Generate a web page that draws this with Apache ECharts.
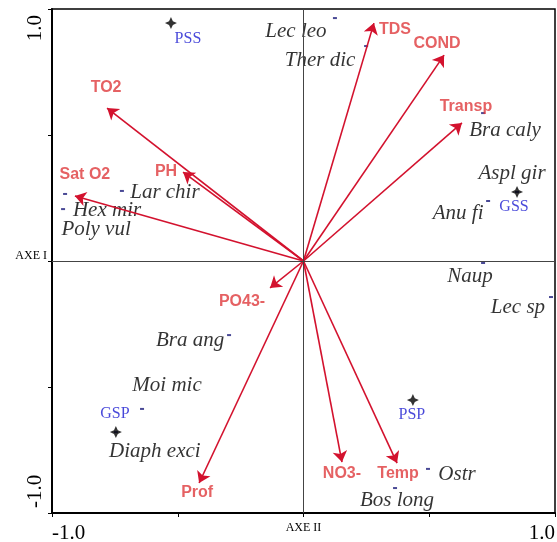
<!DOCTYPE html>
<html>
<head>
<meta charset="utf-8">
<title>ACC</title>
<script src="https://cdn.jsdelivr.net/npm/echarts@6/dist/echarts.min.js"></script>
<style>
html, body { margin: 0; padding: 0; background: #fff; }
#chart { width: 557px; height: 542px; }
</style>
</head>
<body>
<div id="chart"></div>
<script>
// variables environnementales (fleches)
var envNames = ['TDS', 'COND', 'Transp', 'TO2', 'PH', 'Sat O2', 'PO43-', 'Prof', 'NO3-', 'Temp'];
var envX = [0.280, 0.559, 0.630, -0.781, -0.479, -0.909, -0.133, -0.415, 0.153, 0.372];
var envY = [0.944, 0.817, 0.548, 0.607, 0.353, 0.258, -0.107, -0.881, -0.798, -0.802];

// especes
var spNames = ['Lec leo', 'Ther dic', 'Bra caly', 'Aspl gir', 'Anu fi', 'Lar chir', 'Hex mir', 'Poly vul',
	'Naup', 'Lec sp', 'Bra ang', 'Moi mic', 'Diaph exci', 'Ostr', 'Bos long'];
var spX = [0.125, 0.249, 0.714, 0.849, 0.734, -0.722, -0.956, -0.948, 0.714, 0.984, -0.296, -0.642, -0.746, 0.495, 0.364];
var spY = [0.964, 0.853, 0.587, 0.274, 0.238, 0.278, 0.206, 0.266, -0.008, -0.143, -0.294, -0.587, -0.679, -0.825, -0.901];

// stations
var siteNames = ['PSS', 'GSS', 'GSP', 'PSP'];
var siteX = [-0.527, 0.849, -0.746, 0.435];
var siteY = [0.944, 0.274, -0.679, -0.552];

// axes
var axisTicks = [-1, -0.5, 0, 0.5, 1];
var tickLabels = [-1, 1];

// decalage des etiquettes (px), mise en page seulement
var envLabelOff = {
	'TDS': [21, 6], 'COND': [-7, -12], 'Transp': [4, -16], 'TO2': [-1, -20], 'PH': [-17, 0],
	'Sat O2': [10, -21], 'PO43-': [-28, 14], 'Prof': [-2, 10], 'NO3-': [0, 11], 'Temp': [1, 10]
};
var spLabelOff = {
	'Lec leo': [-39, 13], 'Ther dic': [-46, 14], 'Bra caly': [22, 17], 'Aspl gir': [-5, -18],
	'Anu fi': [-30, 12], 'Lar chir': [43, 2], 'Hex mir': [44, 1], 'Poly vul': [31, 36],
	'Naup': [-13, 13], 'Lec sp': [-33, 10], 'Bra ang': [-39, 5], 'Moi mic': [25, -23],
	'Diaph exci': [39, 19], 'Ostr': [29, 6], 'Bos long': [2, 12]
};
var siteLabelOff = { 'PSS': [17, 16], 'GSS': [-3, 15], 'GSP': [-1, -18], 'PSP': [-1, 15] };

var starPath = 'path://M0,-10 L3.2,-3.2 L10,0 L3.2,3.2 L0,10 L-3.2,3.2 L-10,0 L-3.2,-3.2 Z';

/**
 * points avec etiquette decalee
 */
var _points = function(names, xs, ys, off) {
	var list = [];
	for(var i = 0; i < names.length; i++) {
		list.push({
			name: names[i],
			value: [xs[i], ys[i]],
			label: { offset: off[names[i]] }
		});
	}
	return list;
}

var _arrows = function() {
	var list = [];
	for(var i = 0; i < envNames.length; i++) {
		list.push({ name: envNames[i], coords: [[0, 0], [envX[i], envY[i]]] });
	}
	return list;
}

var _axis = function(isY) {
	return {
		type: 'value',
		min: -1,
		max: 1,
		interval: 0.5,
		splitLine: { show: false },
		axisLine: { onZero: false, lineStyle: { color: '#000', width: 2 } },
		axisTick: { customValues: axisTicks, length: 4, lineStyle: { color: '#000', width: 1 } },
		axisLabel: {
			customValues: tickLabels,
			formatter: function(v) { return v.toFixed(1); },
			rotate: isY ? 90 : 0,
			margin: isY ? 6 : 10,
			alignMinLabel: 'left',
			alignMaxLabel: 'right',
			padding: isY ? [0, 6, 0, 5] : 0,
			color: '#000',
			fontFamily: 'Liberation Serif',
			fontSize: 21
		},
		name: isY ? 'AXE I' : 'AXE II',
		nameLocation: 'middle',
		nameRotate: 0,
		nameGap: isY ? 5 : 9,
		nameMoveOverlap: false,
		nameTextStyle: {
			color: '#000',
			fontFamily: 'Liberation Serif',
			fontSize: 12,
			align: isY ? 'right' : 'center',
			verticalAlign: isY ? 'bottom' : 'top',
			padding: isY ? [0, 0, -1, 0] : 0
		}
	};
}

var chart = echarts.init(document.getElementById('chart'));
chart.setOption({
	animation: false,
	grid: {
		left: 52, right: 2, top: 9, bottom: 29,
		show: true, borderColor: '#000', borderWidth: 1.5,
		outerBoundsMode: 'none'
	},
	xAxis: _axis(false),
	yAxis: _axis(true),
	series: [{
		// axes centraux
		type: 'scatter',
		data: [],
		silent: true,
		markLine: {
			silent: true,
			symbol: 'none',
			label: { show: false },
			lineStyle: { color: '#444', width: 1, type: 'solid' },
			data: [{ xAxis: 0 }, { yAxis: 0 }]
		}
	}, {
		type: 'lines',
		coordinateSystem: 'cartesian2d',
		symbol: ['none', 'arrow'],
		symbolSize: 11,
		lineStyle: { color: '#D3122E', width: 1.6, opacity: 1 },
		data: _arrows(),
		z: 3
	}, {
		type: 'scatter',
		symbolSize: 0,
		data: _points(envNames, envX, envY, envLabelOff),
		label: {
			show: true,
			position: 'inside',
			formatter: '{b}',
			color: '#DE3A3C',
			fontFamily: 'Liberation Sans',
			fontWeight: 'bold',
			fontSize: 16
		},
		z: 4
	}, {
		type: 'scatter',
		symbol: 'rect',
		symbolSize: [4, 2],
		itemStyle: { color: '#1c1c7a' },
		data: _points(spNames, spX, spY, spLabelOff),
		label: {
			show: true,
			position: 'inside',
			formatter: '{b}',
			color: '#000',
			fontFamily: 'Liberation Serif',
			fontStyle: 'italic',
			fontSize: 21
		},
		z: 2
	}, {
		type: 'scatter',
		symbol: starPath,
		symbolSize: 12,
		itemStyle: { color: '#000' },
		data: _points(siteNames, siteX, siteY, siteLabelOff),
		label: {
			show: true,
			position: 'inside',
			formatter: '{b}',
			color: '#1818D0',
			fontFamily: 'Liberation Serif',
			fontSize: 16
		},
		z: 5
	}]
});
</script>
</body>
</html>
